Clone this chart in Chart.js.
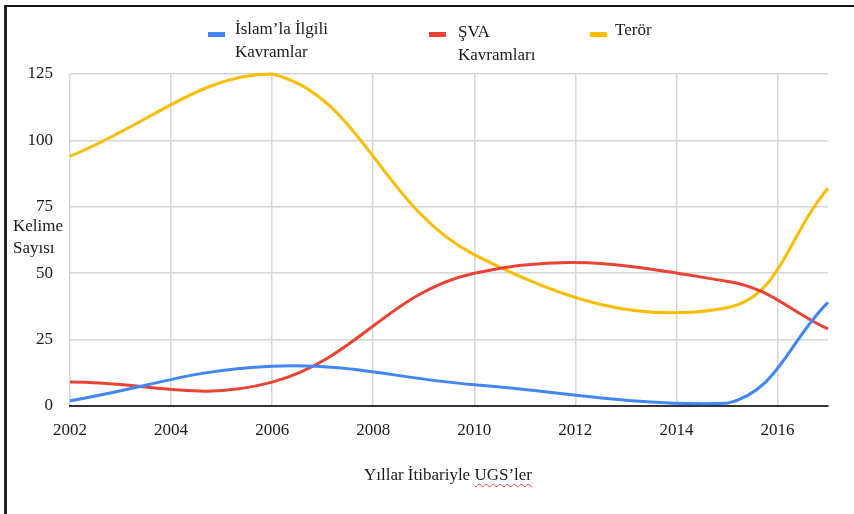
<!DOCTYPE html>
<html>
<head>
<meta charset="utf-8">
<script src="https://cdn.jsdelivr.net/npm/chart.js@4.4.1/dist/chart.umd.min.js"></script>
<style>
  body { margin: 0; background: #fff; }
  #wrap { position: relative; width: 854px; height: 514px; overflow: hidden;
          font-family: "Liberation Serif", "Times New Roman", serif; color: #1a1a1a; }
  #frame { position: absolute; left: 4px; top: 5px; width: 900px; height: 600px;
           border-top: 2px solid #111; border-left: 3px solid #222; }
  #chartBox { position: absolute; left: 0; top: 0; width: 854px; height: 514px; }
  .legendItem { position: absolute; font-size: 17px; line-height: 23px; }
  .legendItem .swatch { position: absolute; width: 17px; height: 5px; }
  .legendItem .label { position: absolute; }
  #xTitle { position: absolute; left: 0; width: 896px; top: 463px; text-align: center;
            font-size: 17px; line-height: 23px; }
  #xTitle span { text-decoration: underline wavy #e04848; text-decoration-thickness: 1px;
                 text-underline-offset: 3px; }
  #yTitle { position: absolute; left: 13px; top: 215px; font-size: 17px; line-height: 22px; }
</style>
</head>
<body>
<div id="wrap">
  <div id="frame"></div>
  <div id="chartBox"><canvas id="chartPlaceholder"></canvas></div>
  <div id="legend"></div>
  <div id="yTitle">Kelime<br>Sayısı</div>
  <div id="xTitle">Yıllar İtibariyle <span>UGS’ler</span></div>
</div>
<script>
const YEARS = [2002, 2006, 2010, 2015, 2017];
const ISLAM = [2, 15, 8, 1, 39];
const SVA = [9, 9, 50, 47, 29];
const TEROR = [94, 125, 57, 37, 82];

const SERIES_NAMES = ["İslam’la İlgili Kavramlar", "ŞVA Kavramları", "Terör"];
const SERIES_COLORS = ["#4285f4", "#ea4335", "#fbbc04"];

const X_TICKS = [2002, 2004, 2006, 2008, 2010, 2012, 2014, 2016];
const Y_TICKS = [0, 25, 50, 75, 100, 125];

// legend layout (left of swatch, left of text, top of text, text box width)
const LEGEND_LAYOUT = [
  { swatch: 208, text: 235, top: 17, width: 104 },
  { swatch: 429, text: 458, top: 20, width: 86 },
  { swatch: 590, text: 615, top: 18, width: 80 },
];

function toPoints(values) {
  return values.map((v, i) => ({ x: YEARS[i], y: v }));
}

function buildLegend() {
  const legend = document.getElementById("legend");
  SERIES_NAMES.forEach((name, i) => {
    const pos = LEGEND_LAYOUT[i];
    const item = document.createElement("div");
    item.className = "legendItem";
    item.innerHTML =
      `<div class="swatch" style="left:${pos.swatch}px;top:32px;background:${SERIES_COLORS[i]}"></div>` +
      `<div class="label" style="left:${pos.text}px;top:${pos.top}px;width:${pos.width}px">${name}</div>`;
    legend.appendChild(item);
  });
}

function displayChart() {
  const seriesData = [ISLAM, SVA, TEROR];
  const datasets = seriesData.map((values, i) => ({
    label: SERIES_NAMES[i],
    data: toPoints(values),
    borderColor: SERIES_COLORS[i],
    backgroundColor: SERIES_COLORS[i],
    borderWidth: 3,
    pointRadius: 0,
    tension: 0.4,
    fill: false,
    clip: 4,
  }));

  const tickFont = { family: "'Liberation Serif', 'Times New Roman', serif", size: 17 };

  const ctx = document.getElementById("chartPlaceholder").getContext("2d");
  new Chart(ctx, {
    type: "line",
    data: { datasets: datasets },
    options: {
      responsive: true,
      maintainAspectRatio: false,
      animation: false,
      layout: { padding: { top: 74, right: 26, left: 0, bottom: 0 } },
      plugins: { legend: { display: false }, tooltip: { enabled: false } },
      scales: {
        x: {
          type: "linear",
          min: 2002,
          max: 2017,
          afterBuildTicks: (axis) => { axis.ticks = X_TICKS.map((v) => ({ value: v })); },
          afterFit: (axis) => { axis.height = 108; },
          ticks: {
            color: "#1a1a1a",
            font: tickFont,
            padding: 14,
            maxRotation: 0,
            callback: (v) => String(v),
          },
          grid: { color: "#d6d6d6", lineWidth: 1.5, drawTicks: false },
          border: { display: true, color: "#333", width: 2 },
        },
        y: {
          min: 0,
          max: 125,
          afterBuildTicks: (axis) => { axis.ticks = Y_TICKS.map((v) => ({ value: v })); },
          afterFit: (axis) => { axis.width = 70; },
          ticks: {
            color: "#1a1a1a",
            font: tickFont,
            padding: 17,
            callback: (v) => String(v),
          },
          grid: { color: "#d6d6d6", lineWidth: 1.5, drawTicks: false },
          border: { display: false },
        },
      },
    },
  });
}

buildLegend();
displayChart();
</script>
</body>
</html>
